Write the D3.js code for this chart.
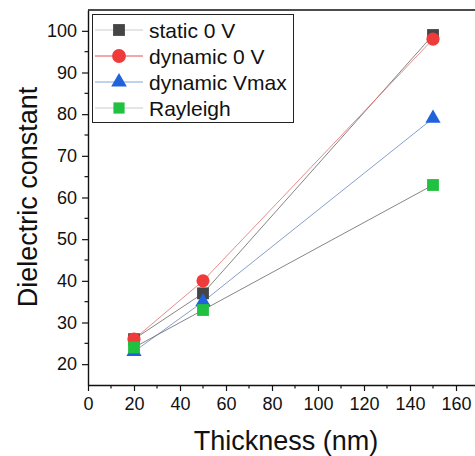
<!DOCTYPE html>
<html>
<head>
<meta charset="utf-8">
<script src="https://cdn.jsdelivr.net/npm/d3@7"></script>
<style>
  html, body { margin: 0; padding: 0; background: #fff; }
  svg { display: block; font-family: "Liberation Sans", Arial, sans-serif; }
</style>
</head>
<body>
<svg id="chart" width="475" height="456"></svg>
<script>
// Film thickness (nm)
const thickness = [20, 50, 150];

// Dielectric constant for each measurement
const static0V = [26, 37, 99];
const dynamic0V = [26, 40, 98];
const dynamicVmax = [23, 35, 79];
const rayleigh = [24, 33, 63];

const seriesNames = ["static 0 V", "dynamic 0 V", "dynamic Vmax", "Rayleigh"];
const xTicks = [0, 20, 40, 60, 80, 100, 120, 140, 160];
const yTicks = [20, 30, 40, 50, 60, 70, 80, 90, 100];

const series = [
  { name: seriesNames[0], values: static0V,   fill: "#454545", line: "#666666", legendLine: "#cccccc", symbol: d3.symbolSquare,   size: 140, legendSize: 140 },
  { name: seriesNames[1], values: dynamic0V,  fill: "#f03b3b", line: "#dc7070", legendLine: "#e05050", symbol: d3.symbolCircle,   size: 135, legendSize: 150 },
  { name: seriesNames[2], values: dynamicVmax,fill: "#1f62db", line: "#6688bb", legendLine: "#7fa4dc", symbol: d3.symbolTriangle, size: 100, legendSize: 105 },
  { name: seriesNames[3], values: rayleigh,   fill: "#20c040", line: "#666666", legendLine: "#cccccc", symbol: d3.symbolSquare,   size: 140, legendSize: 125 }
];

const svg = d3.select("#chart");
const plotLeft = 88, plotTop = 10, plotBottom = 385, plotRight = 475;

const x = d3.scaleLinear().domain([0, 170]).range([plotLeft, plotLeft + 170 * 2.3]);
const y = d3.scaleLinear().domain([15, 105]).range([plotBottom, plotTop]);

// top frame line
svg.append("line")
  .attr("x1", plotLeft).attr("x2", plotRight)
  .attr("y1", plotTop).attr("y2", plotTop)
  .attr("stroke", "#111").attr("stroke-width", 1.4);

// minor ticks
const xMinor = d3.range(10, 170, 20);
const yMinor = d3.range(25, 105, 10);
svg.append("g").selectAll("line").data(xMinor).join("line")
  .attr("x1", d => x(d)).attr("x2", d => x(d))
  .attr("y1", plotBottom).attr("y2", plotBottom + 3.5)
  .attr("stroke", "#111").attr("stroke-width", 1.2);
svg.append("g").selectAll("line").data(yMinor).join("line")
  .attr("y1", d => y(d)).attr("y2", d => y(d))
  .attr("x1", plotLeft).attr("x2", plotLeft - 3.5)
  .attr("stroke", "#111").attr("stroke-width", 1.2);

// x axis
const xAxis = svg.append("g")
  .attr("transform", `translate(0,${plotBottom})`)
  .call(d3.axisBottom(x).tickValues(xTicks).tickSize(6).tickPadding(6).tickSizeOuter(0));
xAxis.select(".domain").attr("stroke", "#111").attr("stroke-width", 1.4);
xAxis.selectAll(".tick line").attr("stroke", "#111").attr("stroke-width", 1.2);
xAxis.selectAll(".tick text").attr("font-size", 18).attr("fill", "#111")
  .attr("font-family", "Liberation Sans, Arial, sans-serif");

// y axis
const yAxis = svg.append("g")
  .attr("transform", `translate(${plotLeft},0)`)
  .call(d3.axisLeft(y).tickValues(yTicks).tickSize(6).tickPadding(5).tickSizeOuter(0));
yAxis.select(".domain").attr("stroke", "#111").attr("stroke-width", 1.4);
yAxis.selectAll(".tick line").attr("stroke", "#111").attr("stroke-width", 1.2);
yAxis.selectAll(".tick text").attr("font-size", 18).attr("fill", "#111")
  .attr("font-family", "Liberation Sans, Arial, sans-serif");

// axis titles
svg.append("text")
  .attr("x", 286).attr("y", 450)
  .attr("text-anchor", "middle")
  .attr("font-size", 27).attr("fill", "#111")
  .text("Thickness (nm)");
svg.append("text")
  .attr("transform", `translate(37,197) rotate(-90)`)
  .attr("text-anchor", "middle")
  .attr("font-size", 27).attr("fill", "#111")
  .text("Dielectric constant");

// connecting lines
const lineGen = d3.line().x(d => x(d[0])).y(d => y(d[1]));
const plot = svg.append("g");
series.forEach(s => {
  plot.append("path")
    .datum(thickness.map((t, i) => [t, s.values[i]]))
    .attr("d", lineGen)
    .attr("fill", "none")
    .attr("stroke", s.line)
    .attr("stroke-width", 0.8);
});

// markers, later series drawn on top
series.forEach(s => {
  plot.append("g").selectAll("path")
    .data(thickness.map((t, i) => [t, s.values[i]]))
    .join("path")
    .attr("transform", d => `translate(${x(d[0])},${y(d[1])})`)
    .attr("d", d3.symbol().type(s.symbol).size(s.size))
    .attr("fill", s.fill);
});

// legend
const legend = svg.append("g");
legend.append("rect")
  .attr("x", 92.5).attr("y", 14.5)
  .attr("width", 201).attr("height", 108)
  .attr("fill", "#fff").attr("stroke", "#222").attr("stroke-width", 1);
const rowY = [30, 56, 82, 108];
series.forEach((s, i) => {
  const g = legend.append("g").attr("transform", `translate(0,${rowY[i]})`);
  g.append("line")
    .attr("x1", 95).attr("x2", 143).attr("y1", 0).attr("y2", 0)
    .attr("stroke", s.legendLine).attr("stroke-width", 1);
  g.append("path")
    .attr("transform", "translate(119,0)")
    .attr("d", d3.symbol().type(s.symbol).size(s.legendSize))
    .attr("fill", s.fill);
  g.append("text")
    .attr("x", 149).attr("y", 0).attr("dy", "0.36em")
    .attr("font-size", 21).attr("fill", "#111")
    .text(s.name);
});
</script>
</body>
</html>
